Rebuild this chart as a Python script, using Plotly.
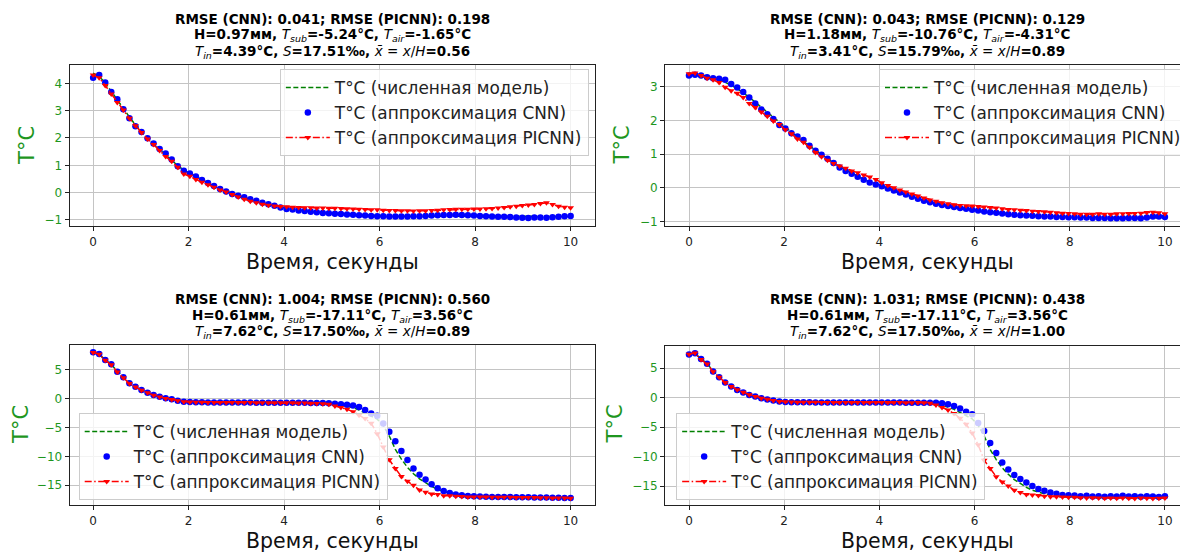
import numpy as np
import plotly.graph_objects as go

# ---------------- data ----------------
t = np.linspace(0, 10, 80)  # time grid, seconds

num1 = [4.37, 4.25, 4.02, 3.70, 3.40, 3.08, 2.77, 2.48,
        2.22, 1.99, 1.78, 1.58, 1.39, 1.19, 0.99, 0.82,
        0.70, 0.58, 0.46, 0.35, 0.25, 0.15, 0.06, -0.03,
        -0.11, -0.18, -0.25, -0.31, -0.37, -0.43, -0.48, -0.53,
        -0.57, -0.61, -0.64, -0.67, -0.70, -0.72, -0.74, -0.76,
        -0.77, -0.79, -0.80, -0.81, -0.82, -0.83, -0.84, -0.85,
        -0.85, -0.86, -0.86, -0.86, -0.86, -0.86, -0.86, -0.86,
        -0.86, -0.86, -0.86, -0.86, -0.86, -0.86, -0.86, -0.86,
        -0.86, -0.86, -0.86, -0.86, -0.86, -0.86, -0.86, -0.86,
        -0.87, -0.87, -0.87, -0.87, -0.87, -0.87, -0.87, -0.87]
cnn1 = [4.20, 4.30, 4.03, 3.68, 3.42, 3.05, 2.72, 2.43,
        2.22, 1.99, 1.80, 1.60, 1.43, 1.21, 0.97, 0.80,
        0.70, 0.59, 0.46, 0.35, 0.24, 0.13, 0.04, -0.05,
        -0.11, -0.17, -0.24, -0.30, -0.37, -0.42, -0.48, -0.54,
        -0.60, -0.62, -0.65, -0.67, -0.70, -0.72, -0.74, -0.75,
        -0.77, -0.78, -0.80, -0.81, -0.83, -0.84, -0.85, -0.86,
        -0.86, -0.87, -0.87, -0.87, -0.87, -0.86, -0.86, -0.85,
        -0.84, -0.83, -0.82, -0.82, -0.81, -0.82, -0.83, -0.84,
        -0.85, -0.86, -0.87, -0.88, -0.88, -0.89, -0.91, -0.92,
        -0.93, -0.91, -0.91, -0.92, -0.90, -0.88, -0.86, -0.85]
pic1 = [4.30, 4.20, 3.92, 3.61, 3.30, 3.02, 2.72, 2.45,
        2.20, 1.96, 1.76, 1.54, 1.32, 1.15, 0.93, 0.68,
        0.60, 0.48, 0.38, 0.29, 0.20, 0.10, 0.02, -0.07,
        -0.16, -0.24, -0.31, -0.37, -0.42, -0.46, -0.49, -0.51,
        -0.52, -0.53, -0.54, -0.55, -0.55, -0.56, -0.56, -0.57,
        -0.57, -0.58, -0.59, -0.60, -0.61, -0.62, -0.63, -0.63,
        -0.64, -0.65, -0.65, -0.66, -0.66, -0.67, -0.66, -0.66,
        -0.65, -0.64, -0.63, -0.62, -0.61, -0.61, -0.61, -0.60,
        -0.60, -0.59, -0.58, -0.56, -0.54, -0.52, -0.50, -0.47,
        -0.45, -0.43, -0.40, -0.37, -0.43, -0.50, -0.53, -0.55]

num2 = [3.38, 3.37, 3.34, 3.30, 3.26, 3.20, 3.13, 3.04,
        2.94, 2.82, 2.69, 2.54, 2.39, 2.24, 2.08, 1.93,
        1.78, 1.64, 1.50, 1.37, 1.24, 1.11, 0.98, 0.86,
        0.74, 0.63, 0.53, 0.43, 0.34, 0.25, 0.17, 0.10,
        0.03, -0.04, -0.10, -0.16, -0.22, -0.28, -0.33, -0.38,
        -0.43, -0.47, -0.51, -0.54, -0.57, -0.60, -0.62, -0.65,
        -0.67, -0.70, -0.72, -0.74, -0.76, -0.78, -0.79, -0.80,
        -0.81, -0.82, -0.83, -0.84, -0.85, -0.85, -0.86, -0.86,
        -0.87, -0.87, -0.87, -0.88, -0.88, -0.88, -0.88, -0.89,
        -0.89, -0.89, -0.89, -0.89, -0.89, -0.89, -0.89, -0.89]
cnn2 = [3.33, 3.35, 3.33, 3.28, 3.25, 3.23, 3.20, 3.08,
        2.97, 2.84, 2.68, 2.50, 2.32, 2.18, 2.04, 1.86,
        1.76, 1.62, 1.52, 1.42, 1.25, 1.10, 0.98, 0.86,
        0.74, 0.60, 0.50, 0.42, 0.33, 0.24, 0.16, 0.10,
        0.05, -0.02, -0.08, -0.14, -0.20, -0.26, -0.32, -0.38,
        -0.43, -0.47, -0.51, -0.54, -0.57, -0.60, -0.62, -0.65,
        -0.67, -0.70, -0.72, -0.74, -0.76, -0.78, -0.80, -0.81,
        -0.82, -0.83, -0.84, -0.85, -0.85, -0.86, -0.86, -0.87,
        -0.87, -0.88, -0.88, -0.89, -0.89, -0.89, -0.90, -0.90,
        -0.90, -0.89, -0.89, -0.90, -0.88, -0.85, -0.85, -0.86]
pic2 = [3.38, 3.40, 3.33, 3.25, 3.20, 3.12, 2.98, 2.88,
        2.80, 2.68, 2.50, 2.38, 2.25, 2.12, 1.98, 1.88,
        1.72, 1.60, 1.45, 1.35, 1.20, 1.05, 0.92, 0.82,
        0.72, 0.65, 0.58, 0.50, 0.45, 0.38, 0.32, 0.25,
        0.15, 0.07, 0.00, -0.06, -0.12, -0.18, -0.24, -0.30,
        -0.36, -0.40, -0.44, -0.47, -0.50, -0.52, -0.53, -0.54,
        -0.55, -0.57, -0.58, -0.60, -0.62, -0.64, -0.65, -0.66,
        -0.67, -0.69, -0.70, -0.71, -0.72, -0.74, -0.75, -0.76,
        -0.77, -0.78, -0.78, -0.78, -0.77, -0.78, -0.78, -0.77,
        -0.77, -0.76, -0.76, -0.75, -0.73, -0.72, -0.74, -0.77]

num3 = [7.95, 7.55, 6.70, 5.80, 4.70, 3.70, 2.80, 2.05,
        1.45, 0.95, 0.55, 0.22, -0.05, -0.25, -0.42, -0.55,
        -0.63, -0.67, -0.70, -0.71, -0.72, -0.72, -0.73, -0.73,
        -0.74, -0.74, -0.75, -0.75, -0.76, -0.76, -0.77, -0.77,
        -0.78, -0.79, -0.80, -0.82, -0.84, -0.87, -0.90, -0.95,
        -1.00, -1.15, -1.35, -1.60, -2.00, -2.50, -3.00, -3.60,
        -4.70, -6.50, -8.80, -10.50, -11.90, -13.00, -13.90, -14.60,
        -15.20, -15.70, -16.10, -16.40, -16.60, -16.75, -16.85, -16.90,
        -16.95, -16.98, -17.00, -17.02, -17.04, -17.05, -17.06, -17.07,
        -17.08, -17.09, -17.10, -17.11, -17.12, -17.13, -17.14, -17.15]
cnn3 = [7.93, 7.64, 6.60, 5.86, 4.60, 3.62, 2.59, 2.00,
        1.44, 0.98, 0.57, 0.29, 0.00, -0.17, -0.40, -0.57,
        -0.63, -0.66, -0.68, -0.70, -0.71, -0.72, -0.72, -0.73,
        -0.73, -0.74, -0.74, -0.75, -0.75, -0.75, -0.76, -0.76,
        -0.76, -0.77, -0.77, -0.78, -0.79, -0.80, -0.82, -0.85,
        -0.93, -1.00, -1.10, -1.25, -1.50, -2.00, -2.60, -3.00,
        -4.35, -5.75, -7.40, -9.10, -10.65, -12.10, -13.20, -14.00,
        -14.80, -15.50, -16.00, -16.35, -16.60, -16.70, -16.85, -16.90,
        -16.95, -16.98, -17.00, -17.00, -17.02, -17.03, -17.05, -17.05,
        -17.08, -17.10, -17.10, -17.12, -17.15, -17.15, -17.18, -17.20]
pic3 = [7.90, 7.60, 6.55, 5.80, 4.55, 3.55, 2.55, 1.95,
        1.40, 0.95, 0.55, 0.25, -0.02, -0.20, -0.42, -0.58,
        -0.64, -0.67, -0.69, -0.70, -0.71, -0.72, -0.72, -0.73,
        -0.73, -0.74, -0.74, -0.75, -0.75, -0.75, -0.76, -0.76,
        -0.77, -0.78, -0.80, -0.82, -0.85, -0.90, -0.95, -1.04,
        -1.33, -1.56, -1.90, -2.30, -2.90, -3.50, -4.30, -6.10,
        -8.40, -10.60, -12.10, -13.50, -14.30, -15.00, -15.80, -16.20,
        -16.50, -16.60, -16.80, -16.80, -16.90, -16.95, -17.00, -17.00,
        -17.02, -17.03, -17.05, -17.05, -17.08, -17.08, -17.10, -17.10,
        -17.12, -17.12, -17.15, -17.15, -17.18, -17.18, -17.20, -17.22]

num4 = [7.40, 7.45, 6.60, 5.75, 4.55, 3.55, 2.65, 1.95,
        1.38, 0.90, 0.50, 0.18, -0.10, -0.30, -0.48, -0.62,
        -0.72, -0.76, -0.78, -0.79, -0.80, -0.80, -0.81, -0.81,
        -0.81, -0.82, -0.82, -0.82, -0.83, -0.83, -0.83, -0.83,
        -0.84, -0.84, -0.84, -0.85, -0.86, -0.88, -0.91, -0.95,
        -1.02, -1.15, -1.35, -1.60, -2.00, -2.50, -3.00, -3.60,
        -4.70, -6.50, -8.80, -10.50, -11.90, -13.00, -13.90, -14.60,
        -15.20, -15.70, -16.05, -16.30, -16.50, -16.65, -16.75, -16.80,
        -16.85, -16.88, -16.90, -16.90, -16.92, -16.92, -16.93, -16.94,
        -16.94, -16.95, -16.95, -16.95, -16.96, -16.96, -16.97, -16.97]
cnn4 = [7.30, 7.50, 6.55, 5.75, 4.43, 3.47, 2.56, 1.88,
        1.31, 0.85, 0.45, 0.17, -0.11, -0.30, -0.50, -0.66,
        -0.74, -0.77, -0.79, -0.80, -0.80, -0.81, -0.81, -0.81,
        -0.82, -0.82, -0.82, -0.82, -0.83, -0.83, -0.83, -0.83,
        -0.84, -0.84, -0.84, -0.84, -0.85, -0.85, -0.85, -0.86,
        -0.86, -0.86, -0.97, -1.14, -1.43, -1.83, -2.40, -2.80,
        -4.29, -5.66, -7.70, -9.40, -11.00, -12.20, -13.10, -13.80,
        -14.40, -15.00, -15.50, -15.80, -16.10, -16.30, -16.50, -16.55,
        -16.60, -16.70, -16.65, -16.75, -16.70, -16.80, -16.70, -16.75,
        -16.65, -16.75, -16.70, -16.80, -16.70, -16.75, -16.85, -16.70]
pic4 = [7.35, 7.55, 6.45, 5.70, 4.40, 3.45, 2.55, 1.90,
        1.35, 0.90, 0.50, 0.20, -0.10, -0.28, -0.48, -0.64,
        -0.72, -0.76, -0.78, -0.79, -0.80, -0.80, -0.81, -0.81,
        -0.81, -0.82, -0.82, -0.82, -0.82, -0.83, -0.83, -0.83,
        -0.83, -0.84, -0.84, -0.84, -0.85, -0.85, -0.84, -0.88,
        -0.97, -1.26, -1.66, -2.10, -2.70, -3.50, -4.50, -6.00,
        -8.00, -10.60, -12.00, -13.40, -14.30, -15.00, -15.70, -16.10,
        -16.40, -16.50, -16.60, -16.70, -16.80, -16.80, -16.85, -16.90,
        -16.90, -16.95, -17.00, -16.95, -17.00, -17.05, -17.00, -17.05,
        -17.00, -17.05, -17.10, -17.00, -17.05, -17.10, -17.05, -17.00]

rmse_cnn = ["0.041", "0.043", "1.004", "1.031"]
rmse_picnn = ["0.198", "0.129", "0.560", "0.438"]
h_mm = ["0.97", "1.18", "0.61", "0.61"]
t_sub = ["-5.24", "-10.76", "-17.11", "-17.11"]
t_air = ["-1.65", "-4.31", "3.56", "3.56"]
t_in = ["4.39", "3.41", "7.62", "7.62"]
salinity = ["17.51", "15.79", "17.50", "17.50"]
x_rel = ["0.56", "0.89", "0.89", "1.00"]
x_ticks = [0, 2, 4, 6, 8, 10]
y_ticks = [[-1, 0, 1, 2, 3, 4], [-1, 0, 1, 2, 3], [-15, -10, -5, 0, 5], [-15, -10, -5, 0, 5]]
series_names = ["T°C (численная модель)", "T°C (аппроксимация CNN)", "T°C (аппроксимация PICNN)"]

NUM = [num1, num2, num3, num4]
CNN = [cnn1, cnn2, cnn3, cnn4]
PIC = [pic1, pic2, pic3, pic4]

# ---------------- layout geometry (page pixels) ----------------
OFF = 8                      # browser body margin
W, H = 1188 - OFF, 552 - OFF  # figure size so that it fills the window
FONT = "DejaVu Sans"
GREEN_TXT = "#1e961e"
GREEN_LINE = "#008000"


def fx(px):
    return (px - OFF) / W


def fy(py):
    return 1 - (py - OFF) / H


xdom_px = [(70, 597), (668, 1188), (70, 597), (668, 1188)]
ydom_px = [(65, 226), (65, 226), (345, 505), (346, 505)]
x_ranges = [[-0.49, 10.5], [-0.5, 10.38], [-0.49, 10.5], [-0.5, 10.38]]
y_ranges = [[-1.22, 4.67], [-1.13, 3.64], [-18.4, 9.2], [-18.2, 8.75]]
title_cx = [333.5, 931, 333.5, 931]
title_y = [(19, 35, 51.5), (19, 35, 51.5), (299, 315.5, 332), (299, 315.5, 332)]
xtitle_y = [262, 262, 541, 541]
ytitle_pos = [(27, 145), (625, 145), (21, 424), (618, 424)]
legend_pos = [(281, 69), (883, 69), (79, 413), (679, 413)]

fig = go.Figure()
layout = dict(
    width=W, height=H,
    margin=dict(l=0, r=0, t=0, b=0),
    paper_bgcolor="white", plot_bgcolor="white",
    font=dict(family=FONT, color="#222222"),
    template="none",
    showlegend=True,
    annotations=[],
)

for i in range(4):
    sfx = "" if i == 0 else str(i + 1)
    leg = "legend" if i == 0 else f"legend{i + 1}"
    xa, ya = "x" + sfx, "y" + sfx
    fig.add_trace(go.Scatter(
        x=t, y=NUM[i], mode="lines", name=series_names[0],
        line=dict(color=GREEN_LINE, width=1.5, dash="5px,2.5px"),
        xaxis=xa, yaxis=ya, legend=leg))
    fig.add_trace(go.Scatter(
        x=t, y=CNN[i], mode="markers", name=series_names[1],
        marker=dict(color="#0000ff", size=6.5, line=dict(width=0)),
        xaxis=xa, yaxis=ya, legend=leg))
    fig.add_trace(go.Scatter(
        x=t, y=PIC[i], mode="lines+markers", name=series_names[2],
        line=dict(color="#ff0000", width=1.5, dash="7px,2.5px,1.5px,2.5px"),
        marker=dict(color="#ff0000", size=6, symbol="triangle-down", line=dict(width=0)),
        xaxis=xa, yaxis=ya, legend=leg))

    right = i % 2 == 1
    layout["xaxis" + sfx] = dict(
        domain=[fx(xdom_px[i][0]), min(1.0, fx(xdom_px[i][1]))],
        anchor=ya, range=x_ranges[i], tickvals=x_ticks,
        ticks="outside", ticklen=4, tickwidth=1, tickcolor="#222222",
        tickfont=dict(size=12, color="#222222", family=FONT),
        showgrid=True, gridcolor="#c4c4c4", gridwidth=1,
        showline=True, linecolor="#222222", linewidth=1.3, mirror=True,
        zeroline=False, automargin=False)
    layout["yaxis" + sfx] = dict(
        domain=[fy(ydom_px[i][1]), fy(ydom_px[i][0])],
        anchor=xa, range=y_ranges[i], tickvals=y_ticks[i],
        ticks="outside", ticklen=4, tickwidth=1, tickcolor="#222222",
        tickfont=dict(size=12, color=GREEN_TXT, family=FONT),
        showgrid=True, gridcolor="#c4c4c4", gridwidth=1,
        showline=True, linecolor="#222222", linewidth=1.3,
        mirror=False if right else True,
        zeroline=False, automargin=False)

    layout[leg] = dict(
        x=fx(legend_pos[i][0]), y=fy(legend_pos[i][1]),
        xanchor="left", yanchor="top",
        bgcolor="rgba(255,255,255,0.8)", bordercolor="#cccccc", borderwidth=1,
        font=dict(size=16.9, family=FONT, color="#222222"),
        itemwidth=44, tracegroupgap=0)

    lines = [
        f"<b>RMSE (CNN): {rmse_cnn[i]}; RMSE (PICNN): {rmse_picnn[i]}</b>",
        f"<b>H={h_mm[i]}мм, </b><i>T</i><sub><i>sub</i></sub><b>={t_sub[i]}°C, </b>"
        f"<i>T</i><sub><i>air</i></sub><b>={t_air[i]}°C</b>",
        f"<i>T</i><sub><i>in</i></sub><b>={t_in[i]}°C, </b><i>S</i><b>={salinity[i]}‰, </b>"
        f"<i>x̄</i> = <i>x</i>/<i>H</i><b>={x_rel[i]}</b>",
    ]
    for ln, yy in zip(lines, title_y[i]):
        layout["annotations"].append(dict(
            text=ln, x=fx(title_cx[i]), y=fy(yy), xref="paper", yref="paper",
            xanchor="center", yanchor="middle", showarrow=False,
            font=dict(size=13.5, color="black", family=FONT)))
    layout["annotations"].append(dict(
        text="Время, секунды", x=fx(title_cx[i]), y=fy(xtitle_y[i]),
        xref="paper", yref="paper", xanchor="center", yanchor="middle",
        showarrow=False, font=dict(size=20.5, color="#111111", family=FONT)))
    layout["annotations"].append(dict(
        text="T°C", x=fx(ytitle_pos[i][0]), y=fy(ytitle_pos[i][1]),
        xref="paper", yref="paper", xanchor="center", yanchor="middle",
        textangle=-90, showarrow=False,
        font=dict(size=21, color=GREEN_TXT, family=FONT)))

fig.update_layout(**layout)
fig.write_html("out.html")
